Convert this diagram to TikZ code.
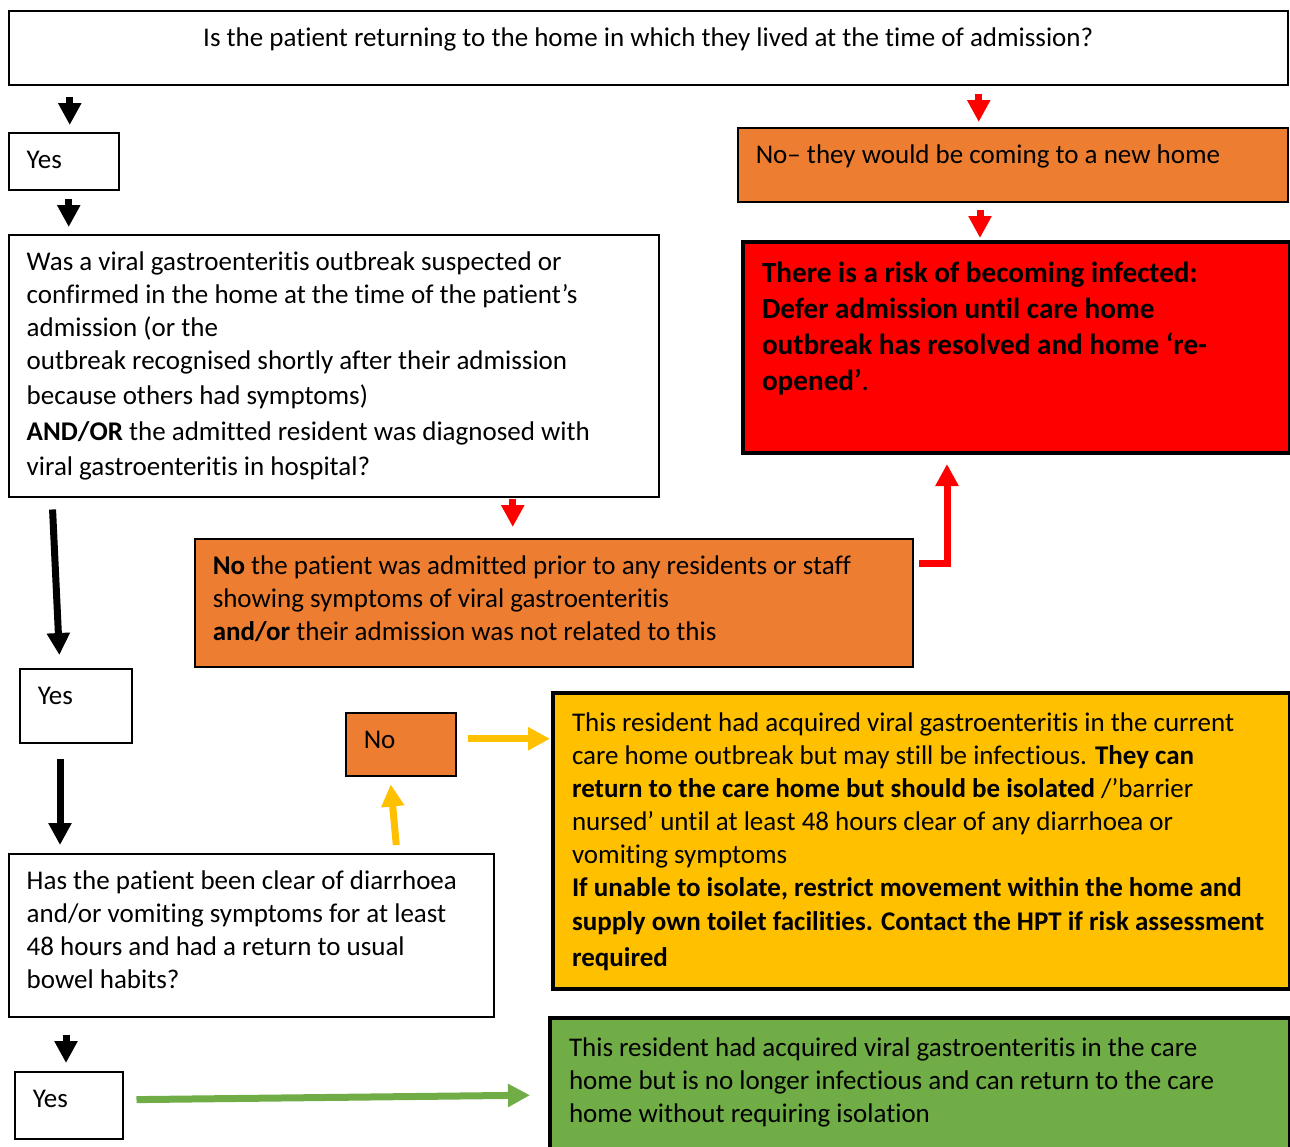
\documentclass[tikz,border=0pt]{standalone}
\usepackage{fontspec}
\setmainfont{Carlito}[Ligatures=NoCommon]
\usetikzlibrary{arrows.meta}

\definecolor{boxorange}{HTML}{ED7D31}
\definecolor{boxred}{HTML}{FF0000}
\definecolor{boxyellow}{HTML}{FFC000}
\definecolor{boxgreen}{HTML}{70AD47}

% text of a box, kept at the top of a fixed height
\newcommand{\celltext}[3]{\parbox[t][#2][t]{#1}{\raggedright\strut#3}}

\begin{document}
\begin{tikzpicture}[
    x=0.5pt, y=-0.5pt,
    question/.style={
        rectangle,
        draw=black,
        line width=0.75pt,
        anchor=north west,
        inner xsep=9pt,
        inner ysep=6.5pt,
        font=\fontsize{13.5}{16.5}\selectfont
    },
    outcome/.style={
        question,
        line width=2pt,
        inner xsep=9.5pt,
        inner ysep=7.5pt
    },
    flow/.style={
        line width=3.5pt,
        -{Triangle[length=11pt,width=11pt]}
    }
]
\useasboundingbox (0,0) rectangle (1290,1146);

% Domanda iniziale
\node[question] (returning) at (8,10) {\celltext{621.5pt}{24pt}{\centering Is the patient returning to the home in which they lived at the time of admission?}};

% Ramo di destra
\node[question] (yesHome) at (8,132) {\celltext{37pt}{15.5pt}{Yes}};
\node[question, fill=boxorange] (newHome) at (737,127) {\celltext{257pt}{24pt}{No– they would be coming to a new home}};
\node[outcome, fill=boxred, font=\fontsize{14.6}{18}\selectfont\bfseries] (deferAdmission) at (741,240) {\celltext{254.5pt}{90.5pt}{There is a risk of becoming infected:\\
Defer admission until care home\\
outbreak has resolved and home ‘re-\\
opened’\mdseries.}};

% Focolaio
\node[question] (outbreakQ) at (8,234) {\celltext{307pt}{118pt}{Was a viral gastroenteritis outbreak suspected or\\
confirmed in the home at the time of the patient’s\\
admission (or the\\
outbreak recognised shortly after their admission\\[1pt]
because others had symptoms)\\[1.5pt]
\textbf{AND/OR} the admitted resident was diagnosed with\\[1pt]
viral gastroenteritis in hospital?}};
\node[question, fill=boxorange] (noOutbreak) at (194,538) {\celltext{341pt}{51pt}{\textbf{No} the patient was admitted prior to any residents or staff\\
showing symptoms of viral gastroenteritis\\
\textbf{and/or} their admission was not related to this}};
\node[question] (yesOutbreak) at (19,668) {\celltext{38pt}{24pt}{Yes}};

% Sintomi
\node[question, fill=boxorange] (noClear) at (345,712) {\celltext{37pt}{18.5pt}{No}};
\node[outcome, fill=boxyellow] (isolateCase) at (551,691) {\celltext{349.5pt}{133pt}{This resident had acquired viral gastroenteritis in the current\\
care home outbreak but may still be infectious. \textbf{They can}\\
\textbf{return to the care home but should be isolated} /’barrier\\
nursed’ until at least 48 hours clear of any diarrhoea or\\
vomiting symptoms\\
\textbf{If unable to isolate, restrict movement within the home and}\\[0.5pt]
\textbf{supply own toilet facilities. Contact the HPT if risk assessment}\\[1.5pt]
\textbf{required}}};
\node[question] (clearQ) at (8,853) {\celltext{224.5pt}{68.5pt}{Has the patient been clear of diarrhoea\\
and/or vomiting symptoms for at least\\
48 hours and had a return to usual\\
bowel habits?}};
\node[question] (yesClear) at (14,1071) {\celltext{36pt}{20.5pt}{Yes}};
\node[outcome, fill=boxgreen] (clearCase) at (548,1016) {\celltext{351pt}{55pt}{This resident had acquired viral gastroenteritis in the care\\
home but is no longer infectious and can return to the care\\
home without requiring isolation}};

% Frecce
\draw[flow, shorten <=5.5pt, shorten >=3.5pt] ([xshift=3pt]returning.south -| yesHome.north) -- ([xshift=3pt]yesHome.north);
\draw[flow, shorten <=4pt, shorten >=3.5pt] ([xshift=2.5pt]yesHome.south) -- ([xshift=2.5pt]yesHome.south |- outbreakQ.north);
\draw[flow, boxred, shorten <=4pt, shorten >=2.5pt] ([xshift=-17pt]returning.south -| newHome.north) -- ([xshift=-17pt]newHome.north);
\draw[flow, boxred, shorten <=3.5pt, shorten >=1pt] ([xshift=-18.25pt]newHome.south -| deferAdmission.north) -- ([xshift=-18.25pt]deferAdmission.north);
\draw[flow, boxred, shorten <=0.5pt, shorten >=5.5pt] ([xshift=-20.5pt]outbreakQ.south -| noOutbreak.north) -- ([xshift=-20.5pt]noOutbreak.north);
\draw[flow, boxred, shorten <=2.5pt, shorten >=4.5pt] ([yshift=19.5pt]noOutbreak.east) -| ([xshift=-34.75pt]deferAdmission.south);
\draw[flow, shorten <=6pt, shorten >=6.5pt] ([xshift=22pt]outbreakQ.south west) -- ([xshift=20.5pt]yesOutbreak.north west);
\draw[flow, shorten <=7.5pt, shorten >=4pt] ([xshift=20.5pt]yesOutbreak.south west) -- ([xshift=20.5pt]yesOutbreak.south west |- clearQ.north);
\draw[flow, boxyellow, shorten <=4pt, shorten >=4pt] ([xshift=194.5pt]clearQ.north west) -- ([xshift=22.5pt]noClear.south west);
\draw[flow, boxyellow, shorten <=5.5pt, shorten >=0.5pt] ([yshift=2.75pt]noClear.east) -- ([yshift=2.75pt]noClear.east -| isolateCase.west);
\draw[flow, shorten <=8.5pt, shorten >=4pt] ([xshift=26pt]yesClear.north west |- clearQ.south) -- ([xshift=26pt]yesClear.north west);
\draw[flow, boxgreen, shorten <=6.5pt, shorten >=9pt] ([yshift=2.75pt]yesClear.east) -- ([yshift=-3.5pt]clearCase.west);

\end{tikzpicture}
\end{document}
